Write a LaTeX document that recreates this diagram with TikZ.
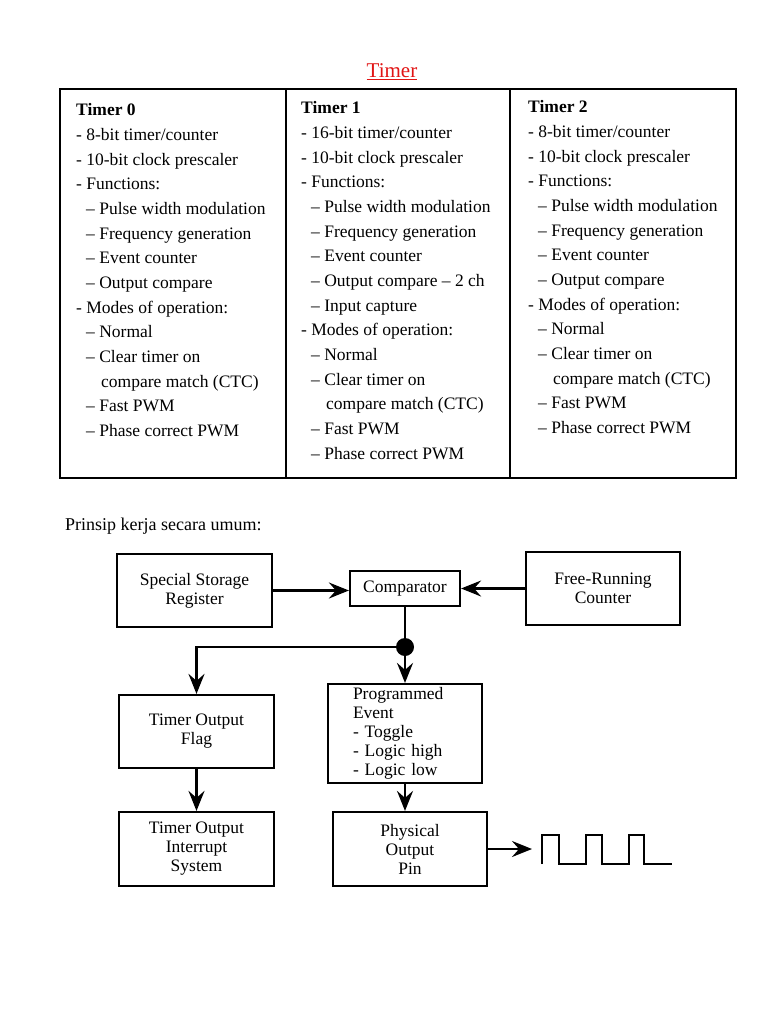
\documentclass[tikz,border=0pt]{standalone}
\usepackage{fontspec}
\setmainfont{Liberation Serif}
\usetikzlibrary{arrows.meta}
\definecolor{titlered}{RGB}{225,20,20}
\begin{document}
\begin{tikzpicture}[x=1pt,y=-1pt,
  tbl/.style={anchor=base west,inner sep=0pt,font=\fontsize{17.5}{20}\selectfont},
  box/.style={draw,line width=2.2pt,inner sep=2pt,font=\fontsize{17.5}{19}\selectfont,align=center},
  conn/.style={line width=2.4pt,-{Stealth[length=20pt,width=16pt,inset=7pt]}},
  wire/.style={line width=2.4pt},
]
\useasboundingbox (0,0) rectangle (768,1024);

% title
\node[anchor=base,inner sep=0pt,font=\fontsize{21}{24}\selectfont] (title) at (392,78) {\color{titlered}\underline{Timer}};

% table frame
\draw[line width=2.4pt] (60,89) rectangle (736,478);
\draw[line width=1.5pt] (286,89) -- (286,478);
\draw[line width=1.5pt] (510,89) -- (510,478);

% Timer 0
\foreach \dx/\t [count=\i from 0] in {
  0/{\textbf{Timer 0}},
  0/{- 8-bit timer/counter},
  0/{- 10-bit clock prescaler},
  0/{- Functions:},
  10/{– Pulse width modulation},
  10/{– Frequency generation},
  10/{– Event counter},
  10/{– Output compare},
  0/{- Modes of operation:},
  10/{– Normal},
  10/{– Clear timer on},
  25/{compare match (CTC)},
  10/{– Fast PWM},
  10/{– Phase correct PWM}}
  \node[tbl] (ta\i) at (76+\dx,116+24.65*\i) {\t};

% Timer 1
\foreach \dx/\t [count=\i from 0] in {
  0/{\textbf{Timer 1}},
  0/{- 16-bit timer/counter},
  0/{- 10-bit clock prescaler},
  0/{- Functions:},
  10/{– Pulse width modulation},
  10/{– Frequency generation},
  10/{– Event counter},
  10/{– Output compare – 2 ch},
  10/{– Input capture},
  0/{- Modes of operation:},
  10/{– Normal},
  10/{– Clear timer on},
  25/{compare match (CTC)},
  10/{– Fast PWM},
  10/{– Phase correct PWM}}
  \node[tbl] (tb\i) at (301+\dx,114+24.65*\i) {\t};

% Timer 2
\foreach \dx/\t [count=\i from 0] in {
  0/{\textbf{Timer 2}},
  0/{- 8-bit timer/counter},
  0/{- 10-bit clock prescaler},
  0/{- Functions:},
  10/{– Pulse width modulation},
  10/{– Frequency generation},
  10/{– Event counter},
  10/{– Output compare},
  0/{- Modes of operation:},
  10/{– Normal},
  10/{– Clear timer on},
  25/{compare match (CTC)},
  10/{– Fast PWM},
  10/{– Phase correct PWM}}
  \node[tbl] (tc\i) at (528+\dx,113+24.65*\i) {\t};

% caption
\node[anchor=base west,inner sep=0pt,font=\fontsize{18}{22}\selectfont] (prinsip) at (65,530) {Prinsip kerja secara umum:};

% diagram boxes
\node[box,minimum width=155pt,minimum height=73pt] (ssr) at (194.5,590.5) {Special Storage\\Register};
\node[box,minimum width=110pt,minimum height=35pt] (comp) at (405,588.5) {Comparator};
\node[box,minimum width=154pt,minimum height=73pt] (frc) at (603,588.5) {Free-Running\\Counter};
\node[box,minimum width=155pt,minimum height=73pt] (tof) at (196.5,731.5) {Timer Output\\Flag};
\node[box,minimum width=154pt,minimum height=99pt,text width=104pt,align=left] (pe) at (405,733.5) {Programmed\\Event\\- Toggle\\- Logic high\\- Logic low};
\node[box,minimum width=155pt,minimum height=74pt] (tois) at (196.5,849) {Timer Output\\Interrupt\\System};
\node[box,minimum width=154pt,minimum height=74pt] (pop) at (410,849) {Physical\\Output\\Pin};
\node[circle,fill,minimum size=18pt,inner sep=0pt] (dot) at (405,647) {};
\coordinate (wa) at (532,849);

% connectors
\draw[conn] (ssr.east) -- (ssr.east -| comp.west);
\draw[conn] (frc.west) -- (frc.west -| comp.east);
\draw[wire] (comp.south) -- (dot.center);
\draw[conn] (dot.center) -| (tof.north);
\draw[conn] (dot.center) -- (pe.north);
\draw[conn] (tof.south) -- (tois.north);
\draw[conn] (pe.south) -- (pe.south |- pop.north);
\draw[conn] (pop.east) -- (wa);

% output waveform
\draw[line width=2.2pt] (542,864) -- (542,835) -- (559,835) -- (559,864) -- (586,864)
  -- (586,835) -- (602,835) -- (602,864) -- (629,864) -- (629,835) -- (644,835)
  -- (644,864) -- (672,864);
\end{tikzpicture}
\end{document}
